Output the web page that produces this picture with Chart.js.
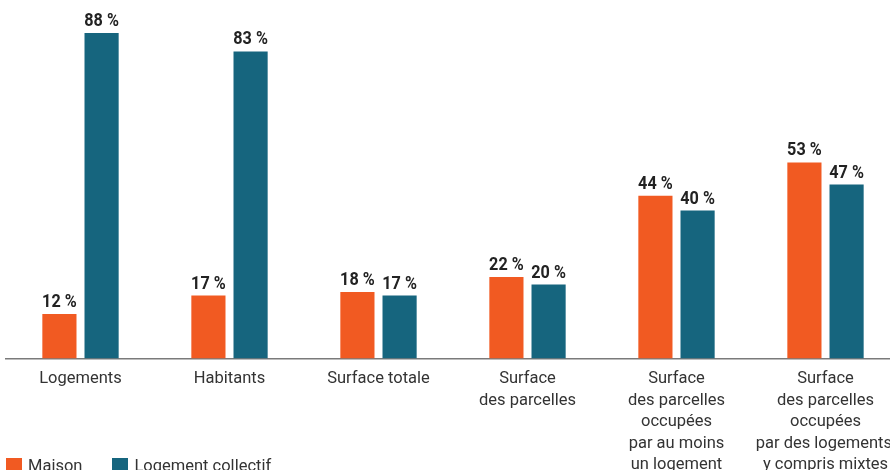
<!DOCTYPE html>
<html lang="fr">
<head>
<meta charset="utf-8">
<script src="https://cdn.jsdelivr.net/npm/chart.js@4.4.1/dist/chart.umd.min.js"></script>
<style>
  html, body { margin: 0; padding: 0; background: #fff; overflow: hidden; }
  #wrap { position: absolute; left: 0; top: 0; width: 920px; height: 490px; }
  #legend {
    position: absolute; left: 6px; top: 456px;
    display: flex; gap: 0; font-family: Roboto, sans-serif; font-size: 16.5px; color: #333;
  }
  #legend .item { display: flex; align-items: center; margin-right: 30px; }
  #legend .box { width: 16px; height: 16px; margin-right: 6px; }
</style>
</head>
<body>
<div id="wrap"><canvas id="chart" width="920" height="490"></canvas></div>
<div id="legend"></div>
<script>
const categories = [
  'Logements',
  'Habitants',
  'Surface totale',
  ['Surface', 'des parcelles'],
  ['Surface', 'des parcelles', 'occupées', 'par au moins', 'un logement'],
  ['Surface', 'des parcelles', 'occupées', 'par des logements,', 'y compris mixtes']
];
const maison = [12, 17, 18, 22, 44, 53];
const collectif = [88, 83, 17, 20, 40, 47];
const seriesNames = ['Maison', 'Logement collectif'];
const seriesColors = ['#f15a22', '#16657e'];

// percentage labels above each bar, slightly condensed bold
const valueLabels = {
  id: 'valueLabels',
  afterDatasetsDraw(chart) {
    const ctx = chart.ctx;
    ctx.save();
    ctx.fillStyle = '#222';
    ctx.font = 'bold 18px Roboto';
    ctx.textAlign = 'center';
    ctx.textBaseline = 'alphabetic';
    chart.data.datasets.forEach((ds, i) => {
      chart.getDatasetMeta(i).data.forEach((bar, j) => {
        ctx.save();
        ctx.translate(bar.x, bar.y - 7);
        ctx.scale(0.9, 1);
        ctx.fillText(ds.data[j] + ' %', 0, 0);
        ctx.restore();
      });
    });
    ctx.restore();
  }
};

const chart = new Chart(document.getElementById('chart'), {
  type: 'bar',
  data: {
    labels: categories,
    datasets: [
      { label: seriesNames[0], data: maison, backgroundColor: seriesColors[0] },
      { label: seriesNames[1], data: collectif, backgroundColor: seriesColors[1] }
    ]
  },
  options: {
    responsive: false,
    animation: false,
    // plot runs a little past the right edge of the visible window
    layout: { padding: { left: 6, right: 20, top: 7, bottom: 0 } },
    datasets: { bar: { categoryPercentage: 0.566, barPercentage: 0.81 } },
    plugins: {
      legend: { display: false },
      tooltip: { enabled: false }
    },
    scales: {
      x: {
        grid: { display: false, drawTicks: false },
        border: { color: '#7a7a7a', width: 1.5 },
        ticks: {
          color: '#333',
          font: { family: 'Roboto', size: 16.5, lineHeight: 1.3 },
          padding: 10,
          maxRotation: 0,
          autoSkip: false
        },
        afterFit(scale) { scale.height = 131.5; }
      },
      y: { display: false, min: 0, max: 95 }
    }
  },
  plugins: [valueLabels]
});

// legend row under the axis
const legend = document.getElementById('legend');
seriesNames.forEach((name, i) => {
  const item = document.createElement('div');
  item.className = 'item';
  item.innerHTML = '<span class="box" style="background:' + seriesColors[i] + '"></span><span>' + name + '</span>';
  legend.appendChild(item);
});
</script>
</body>
</html>
